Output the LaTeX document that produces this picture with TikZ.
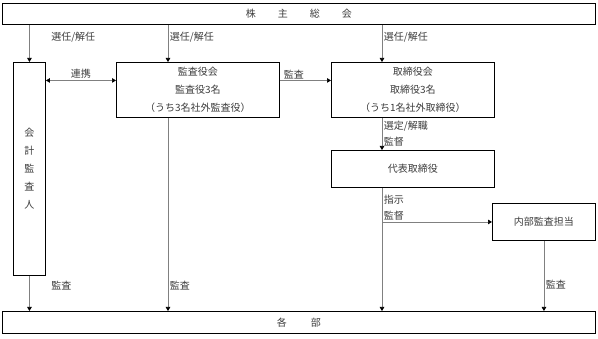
\documentclass[tikz,border=0pt]{standalone}
\usepackage{fontspec}
\setmainfont{Noto Sans CJK JP}
\usetikzlibrary{arrows.meta,positioning,calc}
\definecolor{lineg}{RGB}{128,128,128}
\definecolor{txtg}{RGB}{60,60,60}
\tikzset{
  box/.style={draw, line width=0.9pt, anchor=north west, inner sep=0pt,
              align=center, text=txtg, font=\fontsize{10}{18}\selectfont},
  lbl/.style={text=txtg, inner sep=1.5pt, font=\fontsize{10}{16}\selectfont},
  flow/.style={draw=lineg, line width=0.7pt,
               -{Triangle[length=4pt,width=4.5pt,color=black]}},
  both/.style={draw=lineg, line width=0.7pt,
               {Triangle[length=4pt,width=4.5pt,color=black]}-{Triangle[length=4pt,width=4.5pt,color=black]}},
}

\begin{document}
\begin{tikzpicture}[x=1pt, y=-1pt]
  \useasboundingbox (0,0) rectangle (598,339);
  \node[box, minimum width=593pt, minimum height=21pt] (gm) at (2,3)
    {株\hspace{22pt}主\hspace{22pt}総\hspace{22pt}会};
  \node[box, minimum width=32pt, minimum height=213pt] (acct) at (13,62)
    {会\\計\\監\\査\\人};
  \node[box, minimum width=163pt, minimum height=55pt] (aud) at (116,62)
    {監査役会\\監査役3名\\（うち3名社外監査役）};
  \node[box, minimum width=163pt, minimum height=55pt] (brd) at (331,62)
    {取締役会\\取締役3名\\（うち1名社外取締役）};
  \node[box, minimum width=163pt, minimum height=37pt] (rep) at (331,150)
    {代表取締役};
  \node[box, minimum width=103pt, minimum height=37pt] (ia) at (492,203)
    {内部監査担当};
  \node[box, minimum width=593pt, minimum height=22pt] (dept) at (2,311)
    {各\hspace{24pt}部};

  \coordinate (ax) at (168,0);
  \coordinate (cx) at (382,0);
  \coordinate (a1) at ([yshift=9.5pt]aud.west);
  \coordinate (a2) at ([yshift=9.5pt]aud.east);
  \coordinate (b2) at ([yshift=9.5pt]brd.west);

  \draw[flow] (acct.north |- gm.south) -- node[lbl, pos=0.32, right, xshift=20pt] {選任/解任} (acct.north);
  \draw[flow] (ax |- gm.south) -- node[lbl, pos=0.32, right] {選任/解任} (ax |- aud.north);
  \draw[flow] (cx |- gm.south) -- node[lbl, pos=0.32, right] {選任/解任} (cx |- brd.north);
  \draw[both] (a1 -| acct.east) -- node[lbl, above] {連携} (a1);
  \draw[flow] (a2) -- node[lbl, pos=0, above right, xshift=2pt] {監査} (b2);
  \draw[flow] (cx |- brd.south) -- node[lbl, right, align=left] {選定/解職\\監督} (cx |- rep.north);
  \draw[flow] (cx |- rep.south) -- (cx |- dept.north);
  \draw[flow] (cx |- ia.west) -- node[lbl, pos=0, above right, align=left] {指示\\監督} (ia.west);
  \draw[flow] (acct.south) -- node[lbl, pos=0.28, right, xshift=20pt] {監査} (acct.south |- dept.north);
  \draw[flow] (ax |- aud.south) -- node[lbl, pos=0.866, right] {監査} (ax |- dept.north);
  \draw[flow] (ia.south) -- node[lbl, pos=0.63, right] {監査} (ia.south |- dept.north);
\end{tikzpicture}
\end{document}
